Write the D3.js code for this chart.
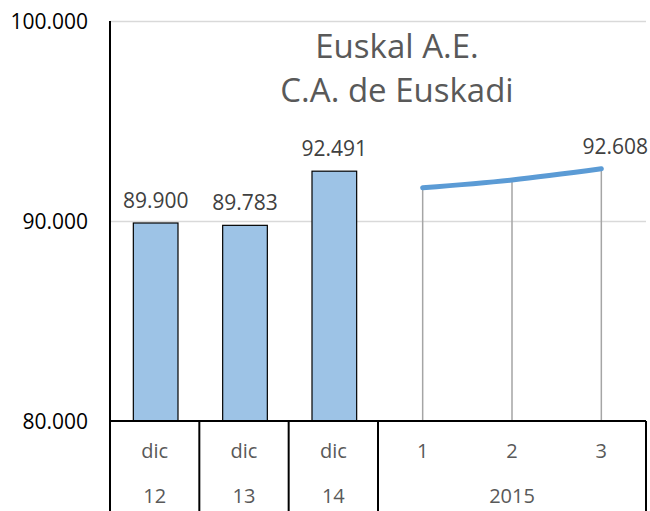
<!DOCTYPE html>
<html lang="es">
<head>
    <meta charset="UTF-8">
    <title>Euskal A.E.</title>
    <script src="https://d3js.org/d3.v7.min.js"></script>
    <style>
        body { margin: 0; background: #fff; }
        text { font-family: "Open Sans", sans-serif; }
    </style>
</head>
<body>
<script>
    const width  = 650;
    const height = 511;

    // data
    const categories  = ["dic", "dic", "dic", "1", "2", "3"];
    const groups      = ["12", "13", "14", "2015"];
    const groupSpans  = [1, 1, 1, 3];
    const barValues   = [89900, 89783, 92491];
    const lineValues  = [91665, 92050, 92608];
    const yTicks      = [80000, 90000, 100000];
    const titleLines  = ["Euskal A.E.", "C.A. de Euskadi"];

    const es = d3.formatLocale({decimal: ",", thousands: ".", grouping: [3], currency: ["", "€"]});
    const fmt = es.format(",d");

    const plotLeft = 110, plotRight = 646, plotTop = 21, plotBottom = 421;

    const x = d3.scaleBand()
            .domain(d3.range(categories.length))
            .range([plotLeft, plotRight])
            .paddingInner(0.5)
            .paddingOuter(0.25);

    const y = d3.scaleLinear()
            .domain([80000, 100000])
            .range([plotBottom, plotTop]);

    const svg = d3.select("body")
            .append("svg")
            .attr("width", width)
            .attr("height", height);

    // gridlines
    svg.append("g")
            .selectAll("line")
            .data(yTicks.filter(d => d > 80000))
            .join("line")
            .attr("x1", plotLeft).attr("x2", plotRight)
            .attr("y1", d => Math.round(y(d)) + 0.5)
            .attr("y2", d => Math.round(y(d)) + 0.5)
            .style("stroke", "#d9d9d9")
            .style("stroke-width", 1.5);

    // y labels
    svg.append("g")
            .selectAll("text")
            .data(yTicks)
            .join("text")
            .attr("x", 88)
            .attr("y", d => y(d) + 7.5)
            .attr("text-anchor", "end")
            .style("font-size", "21px")
            .style("fill", "#000")
            .text(d => fmt(d));

    // bars
    const barData = barValues.map((v, i) => ({i: i, v: v}));
    svg.append("g")
            .selectAll("rect")
            .data(barData)
            .join("rect")
            .attr("x", d => x(d.i) + 1)
            .attr("y", d => y(d.v))
            .attr("width", x.bandwidth())
            .attr("height", d => plotBottom - y(d.v))
            .style("fill", "#9dc3e6")
            .style("stroke", "#000")
            .style("stroke-width", 1.2);

    svg.append("g")
            .selectAll("text")
            .data(barData)
            .join("text")
            .attr("x", d => x(d.i) + 1 + x.bandwidth() / 2)
            .attr("y", d => y(d.v) - 15)
            .attr("text-anchor", "middle")
            .style("font-size", "21px")
            .style("fill", "#404040")
            .text(d => fmt(d.v));

    // line series with drop lines
    const lineData = lineValues.map((v, i) => ({i: i + barValues.length, v: v}));
    const cx = d => x(d.i) + x.bandwidth() / 2;

    svg.append("g")
            .selectAll("line")
            .data(lineData)
            .join("line")
            .attr("x1", cx).attr("x2", cx)
            .attr("y1", d => y(d.v)).attr("y2", plotBottom)
            .style("stroke", "#a5a5a5")
            .style("stroke-width", 1.5);

    const line = d3.line()
            .x(cx)
            .y(d => y(d.v))
            .curve(d3.curveCatmullRom.alpha(0));

    svg.append("path")
            .datum(lineData)
            .attr("d", line)
            .style("fill", "none")
            .style("stroke", "#5b9bd5")
            .style("stroke-width", 5)
            .style("stroke-linecap", "round");

    const last = lineData[lineData.length - 1];
    svg.append("text")
            .attr("x", cx(last) + 14)
            .attr("y", y(last.v) - 15)
            .attr("text-anchor", "middle")
            .style("font-size", "21px")
            .style("fill", "#404040")
            .text(fmt(last.v));

    // axes lines
    svg.append("line")
            .attr("x1", plotLeft).attr("x2", plotLeft)
            .attr("y1", plotTop).attr("y2", height)
            .style("stroke", "#000").style("stroke-width", 2);
    svg.append("line")
            .attr("x1", plotLeft).attr("x2", plotRight)
            .attr("y1", plotBottom).attr("y2", plotBottom)
            .style("stroke", "#000").style("stroke-width", 2);

    // multi-level category axis
    let idx = 0;
    const groupData = groups.map((g, k) => {
        const start = idx;
        idx += groupSpans[k];
        return {label: g, start: start, end: idx - 1};
    });
    const step = x.step();
    const edge = i => plotLeft + i * step;

    svg.append("g")
            .selectAll("line")
            .data(groupData.map(g => g.end + 1))
            .join("line")
            .attr("x1", d => edge(d)).attr("x2", d => edge(d))
            .attr("y1", plotBottom).attr("y2", height)
            .style("stroke", "#000")
            .style("stroke-width", 2);

    svg.append("g")
            .selectAll("text")
            .data(categories)
            .join("text")
            .attr("x", (d, i) => edge(i) + step / 2)
            .attr("y", 458)
            .attr("text-anchor", "middle")
            .style("font-size", "20px")
            .style("fill", "#595959")
            .text(d => d);

    svg.append("g")
            .selectAll("text")
            .data(groupData)
            .join("text")
            .attr("x", d => (edge(d.start) + edge(d.end + 1)) / 2)
            .attr("y", 503)
            .attr("text-anchor", "middle")
            .style("font-size", "20px")
            .style("fill", "#595959")
            .text(d => d.label);

    // title
    svg.append("g")
            .selectAll("text")
            .data(titleLines)
            .join("text")
            .attr("x", 397)
            .attr("y", (d, i) => 58 + i * 44)
            .attr("text-anchor", "middle")
            .style("font-size", "33px")
            .style("fill", "#595959")
            .text(d => d);
</script>
</body>
</html>
